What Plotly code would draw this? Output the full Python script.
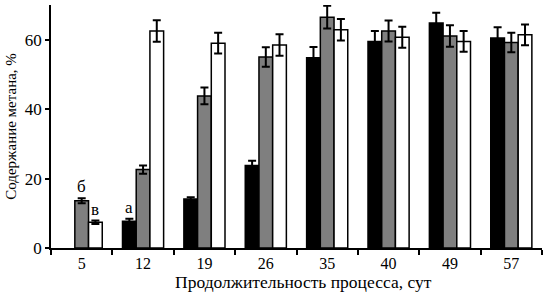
import plotly.graph_objects as go

categories = ["5", "12", "19", "26", "35", "40", "49", "57"]
black_vals = [None, 7.7, 14.1, 23.8, 54.8, 59.5, 64.8, 60.5]
black_err = [0, 0.7, 0.5, 1.3, 3.1, 3.0, 3.0, 3.1]
gray_vals = [13.6, 22.6, 43.8, 55.0, 66.5, 62.5, 61.1, 59.2]
gray_err = [0.7, 1.2, 2.4, 2.8, 3.3, 3.0, 3.1, 2.8]
white_vals = [7.4, 62.5, 59.0, 58.5, 62.9, 60.7, 59.5, 61.4]
white_err = [0.5, 3.1, 3.0, 3.1, 3.1, 3.0, 3.0, 3.0]

# letter labels: (category, series index 0=black 1=gray 2=white, text)
letters = [("5", 1, "б"), ("5", 2, "в"), ("12", 0, "а")]

x_title = "Продолжительность процесса, сут"
y_title = "Содержание метана, %"

FONT = "Liberation Serif"

fig = go.Figure()
series = [
    (black_vals, black_err, "#000000"),
    (gray_vals, gray_err, "#7f7f7f"),
    (white_vals, white_err, "#ffffff"),
]
for vals, errs, col in series:
    fig.add_trace(go.Bar(
        x=categories, y=vals,
        marker=dict(color=col, line=dict(color="#000000", width=1.5)),
        error_y=dict(type="data", array=errs, visible=True, color="#000000",
                     thickness=2, width=4),
        showlegend=False, hoverinfo="skip",
    ))

bar_px = 13.7
all_vals = [black_vals, gray_vals, white_vals]
all_errs = [black_err, gray_err, white_err]
for cat, si, txt in letters:
    i = categories.index(cat)
    fig.add_annotation(
        x=i, y=all_vals[si][i] + all_errs[si][i], xref="x", yref="y",
        text=txt, showarrow=False, yanchor="bottom", yshift=0,
        xshift=(si - 1) * bar_px,
        font=dict(family=FONT, size=17, color="#000000"),
    )

fig.add_annotation(x=0.515, y=-0.138, xref="paper", yref="paper",
                   text=x_title, showarrow=False, xanchor="center",
                   yanchor="middle", font=dict(family=FONT, size=17.5))
fig.add_annotation(x=-0.083, y=0.5, xref="paper", yref="paper",
                   text=y_title, showarrow=False, textangle=-90,
                   xanchor="center", yanchor="middle",
                   font=dict(family=FONT, size=15))

fig.update_layout(
    width=546, height=293,
    margin=dict(l=51, r=4, t=5, b=45, autoexpand=False),
    paper_bgcolor="white", plot_bgcolor="white",
    barmode="group", bargap=0.33, bargroupgap=0,
    font=dict(family=FONT, size=16, color="#000000"),
)
fig.update_xaxes(
    type="category", range=[-0.5, 7.5], showline=True, linecolor="#000000",
    linewidth=1.5, ticks="outside", tickson="boundaries", ticklen=5,
    tickcolor="#000000", tickwidth=1.5, showgrid=False,
    tickfont=dict(family=FONT, size=16),
)
fig.update_yaxes(
    range=[0, 70], tickvals=[0, 20, 40, 60], showline=True,
    linecolor="#000000", linewidth=1.5, ticks="outside", ticklen=4,
    tickcolor="#000000", tickwidth=1.5, showgrid=False, zeroline=False,
    tickfont=dict(family=FONT, size=17),
)

fig.write_html("out.html", config={"displayModeBar": False},
               post_script="document.body.style.margin='0';")
